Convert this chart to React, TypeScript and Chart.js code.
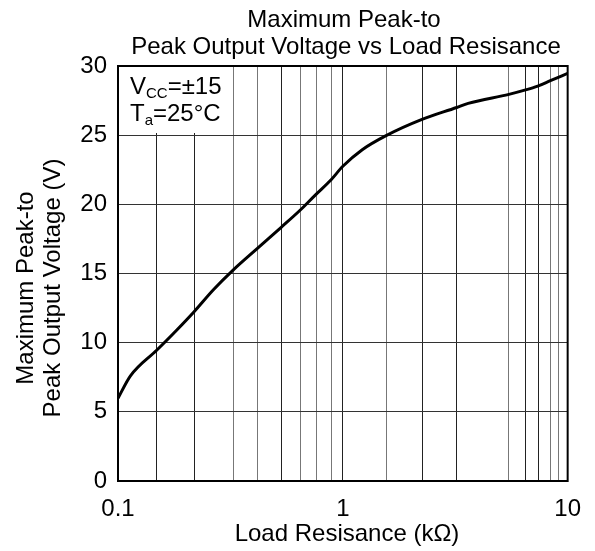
import React, { useEffect, useRef } from "react";
import { Chart, registerables } from "chart.js";

Chart.register(...registerables);

// Curve: load resistance (kΩ) vs maximum peak-to-peak output voltage (V)
const loadKOhm = [0.1, 0.1136, 0.149, 0.1827, 0.218, 0.265, 0.325, 0.417, 0.532, 0.647, 0.754, 0.885, 1.0, 1.22, 1.55, 2.25, 3.21, 3.61, 5.48, 6.5, 7.36, 8.38, 10];
const vpp = [5.98, 7.6, 9.47, 10.92, 12.24, 13.81, 15.25, 16.82, 18.34, 19.59, 20.67, 21.76, 22.75, 23.95, 24.95, 26.14, 27.0, 27.3, 27.95, 28.27, 28.55, 28.94, 29.47];

// Vertical grid lines as drawn on the original sheet (kΩ)
const xGridValues = [0.1, 0.149, 0.22, 0.325, 0.417, 0.532, 0.648, 0.76, 0.891, 1, 1.56, 2.25, 3.21, 5.48, 6.5, 7.44, 8.38, 9.12, 10];
const xGridDark = [0.149, 0.22, 0.532, 1, 2.25, 3.21, 6.5, 7.44];
const xTickLabels: Record<string, string> = { "0.1": "0.1", "1": "1", "10": "10" };
const yTicks = [0, 5, 10, 15, 20, 25, 30];

const titleLines = ["Maximum Peak-to", "Peak Output Voltage vs Load Resisance"];
const yTitleLines = ["Maximum Peak-to", "Peak Output Voltage (V)"];
const xTitle = "Load Resisance (kΩ)";

const FONT = "'Liberation Sans', Arial, Helvetica, sans-serif";

const textPlugin = {
  id: "texts",
  beforeDatasetsDraw(chart: any) {
    const { ctx, chartArea } = chart;
    ctx.save();
    ctx.fillStyle = "#ffffff";
    ctx.fillRect(chartArea.left + 1, chartArea.top + 1, 113, 66);
    ctx.restore();
  },
  afterDraw(chart: any) {
    const { ctx, chartArea } = chart;
    ctx.save();
    // frame
    ctx.strokeStyle = "#000";
    ctx.lineWidth = 2;
    ctx.strokeRect(chartArea.left, chartArea.top, chartArea.right - chartArea.left, chartArea.bottom - chartArea.top);

    ctx.fillStyle = "#000";
    ctx.textBaseline = "alphabetic";
    // main title
    ctx.font = `24px ${FONT}`;
    ctx.textAlign = "center";
    ctx.fillText(titleLines[0], 344, 27);
    ctx.fillText(titleLines[1], 346, 53.5);

    // x title
    ctx.fillText(xTitle, 347, 541);

    // y title
    ctx.save();
    ctx.translate(0, 288);
    ctx.rotate(-Math.PI / 2);
    ctx.textAlign = "center";
    ctx.fillText(yTitleLines[0], 0, 33);
    ctx.fillText(yTitleLines[1], 0, 60);
    ctx.restore();

    // condition text
    ctx.textAlign = "left";
    const drawSub = (x: number, y: number, main: string, sub: string, rest: string) => {
      ctx.font = `24px ${FONT}`;
      ctx.fillText(main, x, y);
      let cx = x + ctx.measureText(main).width;
      ctx.font = `15px ${FONT}`;
      ctx.fillText(sub, cx, y + 4);
      cx += ctx.measureText(sub).width;
      ctx.font = `24px ${FONT}`;
      ctx.fillText(rest, cx, y);
    };
    drawSub(130, 94, "V", "CC", "=±15");
    drawSub(130, 121, "T", "a", "=25°C");
    ctx.restore();
  },
};

export default function App() {
  const canvasRef = useRef<HTMLCanvasElement | null>(null);

  useEffect(() => {
    if (!canvasRef.current) return;
    const chart = new Chart(canvasRef.current, {
      type: "line",
      data: {
        labels: loadKOhm,
        datasets: [
          {
            data: loadKOhm.map((x, i) => ({ x, y: vpp[i] })),
            borderColor: "#000",
            borderWidth: 3,
            pointRadius: 0,
            cubicInterpolationMode: "monotone",
            fill: false,
          },
        ],
      },
      options: {
        responsive: false,
        animation: false,
        layout: { padding: { left: 0, top: 66, right: 25, bottom: 0 } },
        plugins: { legend: { display: false }, title: { display: false }, tooltip: { enabled: false } },
        scales: {
          x: {
            type: "logarithmic",
            min: 0.1,
            max: 10,
            afterBuildTicks: (scale: any) => {
              scale.ticks = xGridValues.map((v) => ({ value: v }));
            },
            afterFit: (scale: any) => {
              scale.height = 70;
            },
            ticks: {
              autoSkip: false,
              maxRotation: 0,
              minRotation: 0,
              padding: 14,
              color: "#000",
              font: { family: FONT, size: 24 },
              callback: (v: any) => xTickLabels[String(Number(v))] ?? "",
            },
            grid: {
              drawTicks: false,
              lineWidth: 1,
              color: (c: any) => (c.tick && xGridDark.includes(c.tick.value) ? "#222" : "#777"),
            },
            border: { display: false },
          },
          y: {
            type: "linear",
            min: 0,
            max: 30,
            afterBuildTicks: (scale: any) => {
              scale.ticks = yTicks.map((v) => ({ value: v }));
            },
            afterFit: (scale: any) => {
              scale.width = 118;
            },
            ticks: {
              padding: 11,
              color: "#000",
              font: { family: FONT, size: 24 },
            },
            grid: { drawTicks: false, color: "#333", lineWidth: 1 },
            border: { display: false },
          },
        },
      },
      plugins: [textPlugin],
    } as any);
    return () => chart.destroy();
  }, []);

  return (
    <div style={{ position: "absolute", left: 0, top: 0, width: 595, height: 551, background: "#fff" }}>
      <canvas ref={canvasRef} width={595} height={551} style={{ display: "block" }} />
    </div>
  );
}
